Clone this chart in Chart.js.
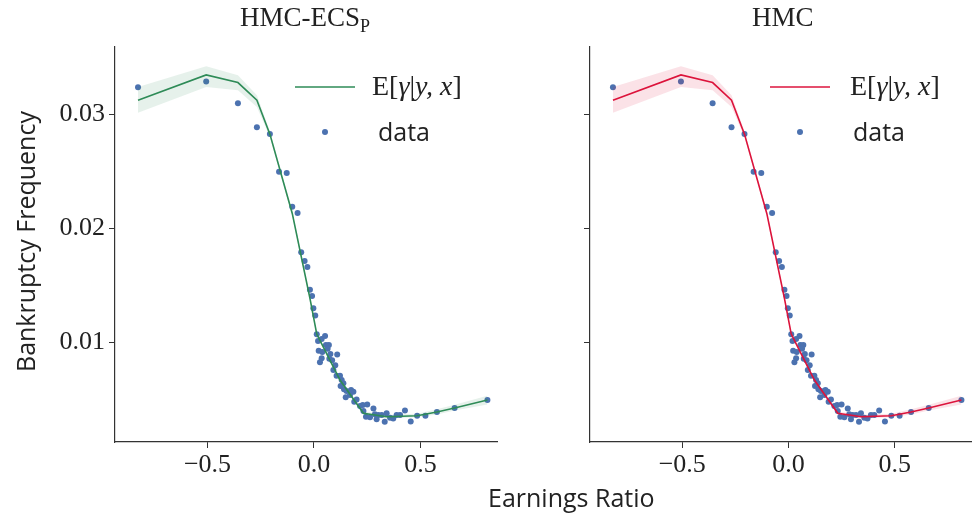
<!DOCTYPE html>
<html><head><meta charset="utf-8">
<script src="https://cdn.jsdelivr.net/npm/chart.js@4"></script>
<style>
body{margin:0;width:975px;height:514px;position:relative;background:#fff;overflow:hidden}
.box{position:absolute;top:0;height:514px}
.t{position:absolute;white-space:nowrap;color:#222}
.serif{font-family:"Liberation Serif",serif}
.sans{font-family:"Open Sans","DejaVu Sans",sans-serif}
</style></head><body>
<div class="box" style="left:0;width:505px"><canvas id="c1"></canvas></div>
<div class="box" style="left:505px;width:470px"><canvas id="c2"></canvas></div>
<div class="t serif" style="left:240px;top:2px;font-size:27px">HMC-ECS<sub style="font-size:18px">P</sub></div>
<div class="t serif" style="left:752px;top:2px;font-size:27px">HMC</div>
<div class="t sans" style="left:488px;top:480px;font-size:25px">Earnings Ratio</div>
<div class="t sans" style="left:-100px;top:230px;width:250px;text-align:center;font-size:25px;transform:rotate(-90deg)">Bankruptcy Frequency</div>
<div class="t serif" style="left:372px;top:70px;font-size:28px">E[<i>γ</i>|<i>y, x</i>]</div>
<div class="t sans" style="left:378px;top:114px;font-size:25px">data</div>
<div class="t serif" style="left:850px;top:70px;font-size:28px">E[<i>γ</i>|<i>y, x</i>]</div>
<div class="t sans" style="left:853px;top:114px;font-size:25px">data</div>
<script>
const dataX = [-0.826,-0.506,-0.357,-0.268,-0.207,-0.164,-0.128,-0.102,-0.077,-0.060,-0.044,-0.031,-0.019,-0.009,-0.003,0.006,0.013,0.052,0.019,0.036,0.022,0.039,0.036,0.028,0.056,0.070,0.064,0.077,0.109,0.085,0.072,0.100,0.091,0.106,0.122,0.130,0.138,0.125,0.141,0.153,0.174,0.185,0.149,0.169,0.189,0.200,0.216,0.229,0.250,0.232,0.279,0.244,0.263,0.286,0.302,0.294,0.318,0.341,0.332,0.357,0.372,0.388,0.404,0.427,0.454,0.484,0.523,0.577,0.660,0.814];
const dataY = [0.03237,0.03287,0.03096,0.02886,0.02827,0.02494,0.02485,0.02187,0.02134,0.01789,0.01711,0.01658,0.01459,0.01404,0.01298,0.01234,0.01068,0.01053,0.01009,0.01026,0.00924,0.00912,0.00857,0.00822,0.00974,0.00974,0.00942,0.00895,0.00892,0.0084,0.00854,0.00796,0.00754,0.00704,0.00704,0.00667,0.00638,0.00614,0.00585,0.0057,0.00579,0.00564,0.00515,0.00535,0.00476,0.00497,0.00439,0.00447,0.00453,0.00395,0.00418,0.00345,0.0034,0.00366,0.0036,0.00322,0.0036,0.00375,0.003,0.00336,0.0033,0.0036,0.0036,0.004,0.00304,0.00354,0.00354,0.00386,0.00421,0.00491];
const lineX = [-0.826,-0.506,-0.357,-0.268,-0.207,-0.102,-0.019,0.013,0.122,0.232,0.341,0.484,0.577,0.660,0.814];
const lineY = [0.03123,0.03345,0.03278,0.03123,0.02825,0.02129,0.01383,0.0107,0.00667,0.00375,0.00345,0.00354,0.00386,0.00421,0.00491];
const upperY = [0.0324,0.03421,0.03342,0.03167,0.0285,0.0215,0.014,0.0109,0.0068,0.0039,0.0036,0.0037,0.0041,0.0045,0.00529];
const lowerY = [0.03012,0.0324,0.03211,0.03064,0.028,0.0211,0.0137,0.0105,0.00655,0.0036,0.0033,0.0034,0.00365,0.0040,0.00453];
const xTicks = [-0.5,0,0.5];
const yTicks = [0.01,0.02,0.03];

const pts = (xs, ys) => xs.map((x, i) => ({x: x, y: ys[i]}));

function legendMarks(color, lx, mx) {
  return {
    id: 'legendMarks',
    afterDraw(chart) {
      const c = chart.ctx;
      c.save();
      c.strokeStyle = color; c.lineWidth = 1.6;
      c.beginPath(); c.moveTo(lx, 87); c.lineTo(lx + 60, 87); c.stroke();
      c.fillStyle = '#4c72b0';
      c.beginPath(); c.arc(mx, 132, 3, 0, Math.PI * 2); c.fill();
      c.restore();
    }
  };
}

function makeChart(id, color, band, yw, padRight, showY, legend) {
  const ctx = document.getElementById(id).getContext('2d');
  return new Chart(ctx, {
    type: 'scatter',
    data: {
      datasets: [
        {type: 'line', data: pts(lineX, upperY), borderWidth: 0, pointRadius: 0, fill: false},
        {type: 'line', data: pts(lineX, lowerY), borderWidth: 0, pointRadius: 0, fill: '-1', backgroundColor: band},
        {type: 'line', data: pts(lineX, lineY), borderColor: color, borderWidth: 1.6, pointRadius: 0, fill: false},
        {data: pts(dataX, dataY), backgroundColor: '#4c72b0', borderWidth: 0, pointRadius: 3}
      ]
    },
    options: {
      responsive: true, maintainAspectRatio: false, animation: false,
      layout: {padding: {top: 47, right: padRight, left: 0, bottom: 0}},
      plugins: {legend: {display: false}, tooltip: {enabled: false}},
      scales: {
        x: {
          type: 'linear', min: -0.934, max: 0.859,
          afterFit: s => { s.height = 72; },
          afterBuildTicks: s => { s.ticks = xTicks.map(v => ({value: v})); },
          grid: {drawOnChartArea: false, drawTicks: true, tickLength: 6, color: '#333'},
          border: {color: '#333', width: 1.2},
          ticks: {color: '#222', font: {family: 'Liberation Serif', size: 26}, padding: 2,
            callback: v => v === 0 ? '0.0' : (v < 0 ? '\u2212' : '') + Math.abs(v).toFixed(1)}
        },
        y: {
          min: 0.00123, max: 0.0359,
          afterFit: s => { s.width = yw; },
          afterBuildTicks: s => { s.ticks = yTicks.map(v => ({value: v})); },
          grid: {drawOnChartArea: false, drawTicks: true, tickLength: 6, color: '#333'},
          border: {color: '#333', width: 1.2},
          ticks: {display: showY, color: '#222', font: {family: 'Liberation Serif', size: 26}, padding: 4,
            callback: v => v.toFixed(2)}
        }
      }
    },
    plugins: [legend]
  });
}

makeChart('c1', '#2e8b57', 'rgba(46,139,87,0.12)', 115, 8, true, legendMarks('#2e8b57', 295, 325));
makeChart('c2', '#dc143c', 'rgba(220,20,60,0.12)', 85, 3, false, legendMarks('#dc143c', 265, 295));
</script>
</body></html>
